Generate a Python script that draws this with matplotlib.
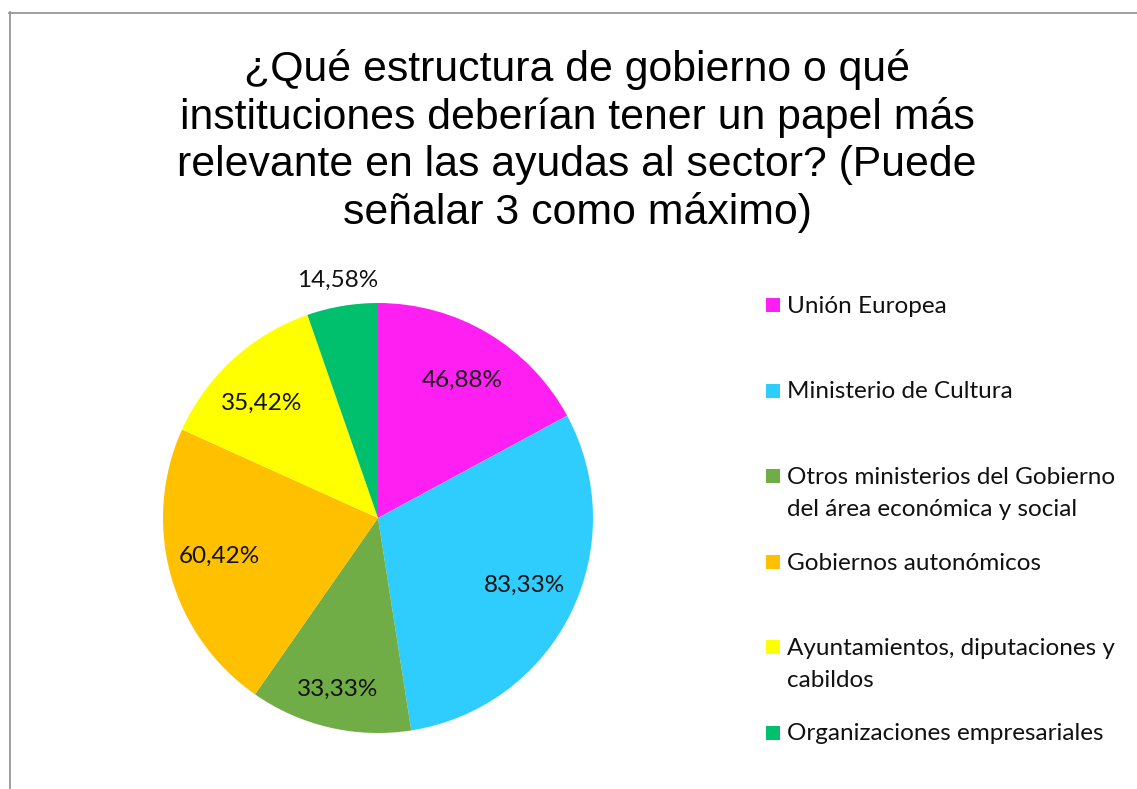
import numpy as np
import matplotlib
matplotlib.use("Agg")
import matplotlib.pyplot as plt
from matplotlib.lines import Line2D
from matplotlib.patches import Rectangle

# data
categories = ["Unión Europea", "Ministerio de Cultura",
              "Otros ministerios del Gobierno\ndel área económica y social",
              "Gobiernos autonómicos",
              "Ayuntamientos, diputaciones y\ncabildos",
              "Organizaciones empresariales"]
values = [46.88, 83.33, 33.33, 60.42, 35.42, 14.58]
colors = ["#FF1FF3", "#2ECDFD", "#70AD47", "#FFC000", "#FFFF00", "#00C06E"]
# label placement: radial distance and small angular nudge (deg)
label_dist = [0.75, 0.75, 0.82, 0.76, 0.76, 1.12]
label_nudge = [-0.8, 1.8, -0.4, -2.0, 3.0, 0.0]

title = ("¿Qué estructura de gobierno o qué\ninstituciones deberían tener un papel más\n"
         "relevante en las ayudas al sector? (Puede\nseñalar 3 como máximo)")

W, H = 1137, 789
fig = plt.figure(figsize=(W / 100, H / 100), dpi=100)
fig.patch.set_facecolor("white")

# chart frame (only left and top edge visible)
fig.add_artist(Line2D([9.5 / W, 9.5 / W], [0, 1 - 12 / H], color="#8f8f8f", lw=1.2))
fig.add_artist(Line2D([9 / W, 1], [1 - 12.5 / H, 1 - 12.5 / H], color="#8f8f8f", lw=1.2))

fig.text(577 / W, 1 - 141 / H, title, ha="center", va="center",
         fontsize=30.8, family="Liberation Sans", linespacing=1.22)

# pie
cx, cy, r = 378, 518, 215
ax = fig.add_axes([(cx - r) / W, (H - cy - r) / H, 2 * r / W, 2 * r / H])
wedges, _ = ax.pie(values, colors=colors, startangle=90, counterclock=False,
                   wedgeprops=dict(linewidth=0))
ax.set_xlim(-1, 1)
ax.set_ylim(-1, 1)
ax.set_aspect("auto")
ax.axis("off")

for w, v, d, n in zip(wedges, values, label_dist, label_nudge):
    a = np.deg2rad((w.theta1 + w.theta2) / 2 + n)
    ax.text(d * np.cos(a), d * np.sin(a), f"{v:.2f}%".replace(".", ","),
            ha="center", va="center", fontsize=17.5, family="Lato", color="#111111")

# legend
y0, dy = 305, 85.5
for i, (lab, c) in enumerate(zip(categories, colors)):
    y = y0 + i * dy
    fig.add_artist(Rectangle((766 / W, 1 - (y + 7) / H), 14 / W, 14 / H,
                             facecolor=c, edgecolor="none"))
    lines = lab.split("\n")
    for k, line in enumerate(lines):
        fig.text(787 / W, 1 - (y + 8 + 32 * k) / H, line, ha="left", va="baseline",
                 fontsize=17.5, family="Lato", color="#111111")

fig.savefig("out.png", dpi=100)
